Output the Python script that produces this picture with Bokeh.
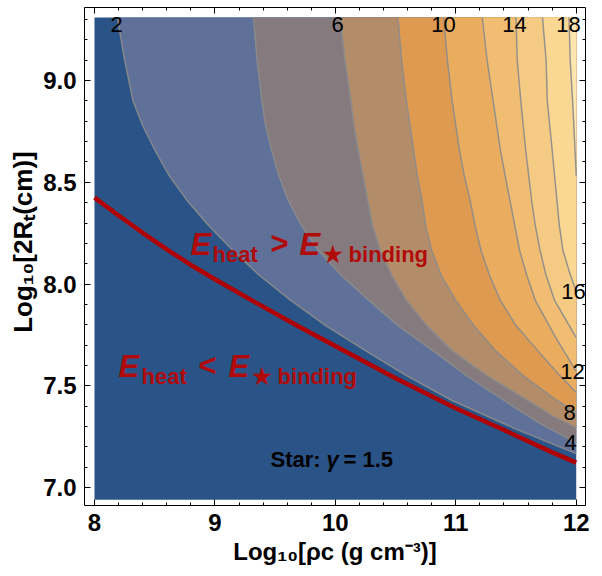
from bokeh.plotting import figure
from bokeh.models import Label, LinearAxis, FixedTicker, NumeralTickFormatter, CustomJSTickFormatter
from bokeh.embed import file_html
from bokeh.resources import INLINE

# ---------------- data ----------------
X_MIN, X_MAX = 8.0, 12.0
Y_MIN, Y_MAX = 6.94, 9.31

LEVELS = [2, 4, 6, 8, 10, 12, 14, 16, 18]

C2_X = [8.19, 8.25, 8.32, 8.40, 8.50, 8.62, 8.77, 8.95, 9.15, 9.37, 9.63, 9.92, 10.25, 10.59, 10.97, 11.49, 12.0]
C2_Y = [9.31, 9.10, 8.90, 8.779, 8.66, 8.533, 8.41, 8.287, 8.165, 8.042, 7.92, 7.796, 7.673, 7.55, 7.428, 7.29, 7.167]
C4_X = [9.32, 9.35, 9.39, 9.42, 9.47, 9.53, 9.61, 9.72, 9.86, 10.05, 10.28, 10.52, 10.81, 11.09, 11.40, 11.70, 12.0]
C4_Y = [9.31, 9.10, 8.90, 8.779, 8.66, 8.533, 8.41, 8.287, 8.165, 8.042, 7.92, 7.796, 7.673, 7.55, 7.428, 7.314, 7.221]
C6_X = [10.04, 10.08, 10.13, 10.155, 10.19, 10.23, 10.27, 10.31, 10.375, 10.47, 10.59, 10.76, 10.97, 11.26, 11.60, 11.80, 12.0]
C6_Y = [9.31, 9.10, 8.90, 8.779, 8.66, 8.533, 8.41, 8.287, 8.165, 8.042, 7.92, 7.796, 7.673, 7.55, 7.428, 7.354, 7.295]
C8_X = [10.52, 10.55, 10.59, 10.62, 10.65, 10.68, 10.72, 10.75, 10.80, 10.88, 11.00, 11.15, 11.33, 11.56, 11.84, 12.0]
C8_Y = [9.31, 9.10, 8.90, 8.779, 8.66, 8.533, 8.41, 8.287, 8.165, 8.042, 7.92, 7.796, 7.673, 7.55, 7.428, 7.369]
C10_X = [10.90, 10.93, 10.97, 11.00, 11.03, 11.07, 11.12, 11.16, 11.21, 11.28, 11.37, 11.50, 11.68, 11.84, 12.0]
C10_Y = [9.31, 9.10, 8.90, 8.779, 8.66, 8.533, 8.41, 8.287, 8.165, 8.042, 7.92, 7.796, 7.673, 7.565, 7.467]
C12_X = [11.22, 11.26, 11.31, 11.34, 11.37, 11.41, 11.45, 11.49, 11.53, 11.59, 11.66, 11.83, 12.0]
C12_Y = [9.31, 9.10, 8.90, 8.779, 8.66, 8.533, 8.41, 8.287, 8.165, 8.042, 7.92, 7.737, 7.570]
C14_X = [11.50, 11.51, 11.54, 11.58, 11.63, 11.66, 11.70, 11.75, 11.82, 12.0]
C14_Y = [9.31, 9.10, 8.90, 8.66, 8.41, 8.287, 8.165, 8.042, 7.92, 7.737]
C16_X = [11.72, 11.75, 11.76, 11.80, 11.84, 11.86, 11.89, 11.94, 12.0]
C16_Y = [9.31, 9.10, 8.90, 8.66, 8.41, 8.287, 8.165, 8.066, 7.963]
C18_X = [11.94, 11.95, 11.97, 11.99, 12.0]
C18_Y = [9.31, 9.10, 8.90, 8.66, 8.533]

BOUND_X = [8.0, 8.2, 8.4, 8.6, 8.8, 9.0, 9.35, 9.7, 10.1, 10.5, 11.0, 11.4, 11.8, 12.0]
BOUND_Y = [8.425, 8.337, 8.252, 8.171, 8.094, 8.024, 7.905, 7.79, 7.664, 7.537, 7.39, 7.283, 7.173, 7.123]

X_TICKS = [8, 9, 10, 11, 12]
Y_TICKS = [7.0, 7.5, 8.0, 8.5, 9.0]

TOP_LABELS = ["2", "6", "10", "14", "18"]
RIGHT_LABELS = ["16", "12", "8", "4"]

BAND_COLORS = ["#2A5487", "#5F7099", "#857B7E", "#B38C69", "#DE9A50",
               "#EAAC5E", "#F0BD72", "#F5CA83", "#FAD894", "#FEE7AE"]

CONTOURS_X = [C2_X, C4_X, C6_X, C8_X, C10_X, C12_X, C14_X, C16_X, C18_X]
CONTOURS_Y = [C2_Y, C4_Y, C6_Y, C8_Y, C10_Y, C12_Y, C14_Y, C16_Y, C18_Y]

# ---------------- figure ----------------
XR = (7.917, 12.077)
YR = (6.912, 9.359)
FL, FT, FW, FH = 84, 7, 501, 498
FONT = "Liberation Sans"


def sx(px):
    return XR[0] + (px - FL) * (XR[1] - XR[0]) / FW


def sy(py):
    return YR[1] - (py - FT) * (YR[1] - YR[0]) / FH


p = figure(width=602, height=576, x_range=XR, y_range=YR,
           output_backend="svg", toolbar_location=None,
           min_border_left=FL, min_border_right=602 - FL - FW,
           min_border_top=FT, min_border_bottom=576 - FT - FH)
p.xgrid.visible = False
p.ygrid.visible = False
p.outline_line_color = "black"
p.outline_line_width = 1
p.background_fill_color = "white"
p.border_fill_color = "white"

x_minor = [round(7.8 + 0.2 * i, 1) for i in range(23)]
y_minor = [round(6.9 + 0.1 * i, 1) for i in range(26)]


def style_axis(ax, labels):
    ax.axis_line_color = None
    ax.major_tick_in = 6
    ax.major_tick_out = 0
    ax.minor_tick_in = 3
    ax.minor_tick_out = 0
    ax.major_tick_line_color = "black"
    ax.minor_tick_line_color = "black"
    if labels:
        ax.major_label_text_font = FONT
        ax.major_label_text_font_style = "bold"
        ax.major_label_text_font_size = "24px"
        ax.major_label_text_color = "black"
        ax.major_label_standoff = 8
        ax.axis_label_text_font = FONT
        ax.axis_label_text_font_style = "bold"
        ax.axis_label_text_font_size = "24px"
        ax.axis_label_text_color = "black"
    else:
        ax.formatter = CustomJSTickFormatter(code="return ''")
        ax.major_label_text_font_size = "1px"
        ax.major_label_standoff = 0


p.xaxis.ticker = FixedTicker(ticks=X_TICKS, minor_ticks=x_minor)
p.yaxis.ticker = FixedTicker(ticks=Y_TICKS, minor_ticks=y_minor)
p.xaxis.formatter = NumeralTickFormatter(format="0")
p.yaxis.formatter = NumeralTickFormatter(format="0.0")
for ax in p.xaxis:
    style_axis(ax, True)
for ax in p.yaxis:
    style_axis(ax, True)
p.xaxis.axis_label = "Log₁₀[ρc (g cm⁻³)]"
# leading no-break spaces lift the rotated title a little, as in the reference
p.yaxis.axis_label = "\u00a0\u00a0\u00a0\u00a0Log₁₀[2Rₜ(cm)]"
p.yaxis.axis_label_text_font_size = "26px"
p.xaxis.axis_label_standoff = 4
p.yaxis.axis_label_standoff = 2

top_ax = LinearAxis(ticker=FixedTicker(ticks=X_TICKS, minor_ticks=x_minor))
right_ax = LinearAxis(ticker=FixedTicker(ticks=Y_TICKS, minor_ticks=y_minor))
style_axis(top_ax, False)
style_axis(right_ax, False)
p.add_layout(top_ax, "above")
p.add_layout(right_ax, "right")

# base band and bands above each contour
p.quad(left=X_MIN, right=X_MAX, bottom=Y_MIN, top=Y_MAX,
       fill_color=BAND_COLORS[0], line_color=None)
for i, (cx, cy) in enumerate(zip(CONTOURS_X, CONTOURS_Y)):
    p.patch(cx + [X_MAX], cy + [Y_MAX], fill_color=BAND_COLORS[i + 1],
            line_color=None)
for cx, cy in zip(CONTOURS_X, CONTOURS_Y):
    p.line(cx, cy, line_color="#8C8C8C", line_width=1.5, line_alpha=0.9,
           line_join="round")

p.line(BOUND_X, BOUND_Y, line_color="#B00000", line_width=4.5, line_join="round")


def put(text, px, py, size, style="normal", color="black", align="center"):
    p.add_layout(Label(x=sx(px), y=sy(py), text=text, text_align=align,
                       text_baseline="middle", text_font=FONT,
                       text_font_size=f"{size}px", text_font_style=style,
                       text_color=color))


# contour labels
TOP_POS = [116, 337, 443, 514, 568]
for t, px in zip(TOP_LABELS, TOP_POS):
    put(t, px, 24, 22)
RIGHT_POS = [(573, 291), (572, 371), (569, 412), (570, 442)]
for t, (px, py) in zip(RIGHT_LABELS, RIGHT_POS):
    put(t, px, py, 22)

RED = "#B00A0A"
# E_heat > E_star binding
put("E", 190, 244, 31, "bold italic", RED, "left")
put("heat", 212, 254, 22, "bold", RED, "left")
put(">", 270, 243, 31, "bold", RED, "left")
put("E", 299, 244, 31, "bold italic", RED, "left")
put("★ binding", 322, 254, 22, "bold", RED, "left")
# E_heat < E_star binding
put("E", 118, 366, 31, "bold italic", RED, "left")
put("heat", 141, 376, 22, "bold", RED, "left")
put("<", 198, 365, 31, "bold", RED, "left")
put("E", 228, 366, 31, "bold italic", RED, "left")
put("★ binding", 251, 376, 22, "bold", RED, "left")
# Star: gamma = 1.5
put("Star:", 270, 459, 22, "bold", "black", "left")
put("γ", 326, 459, 22, "bold italic", "black", "left")
put("= 1.5", 343, 459, 22, "bold", "black", "left")

open("out.html", "w").write(file_html(p, INLINE))
